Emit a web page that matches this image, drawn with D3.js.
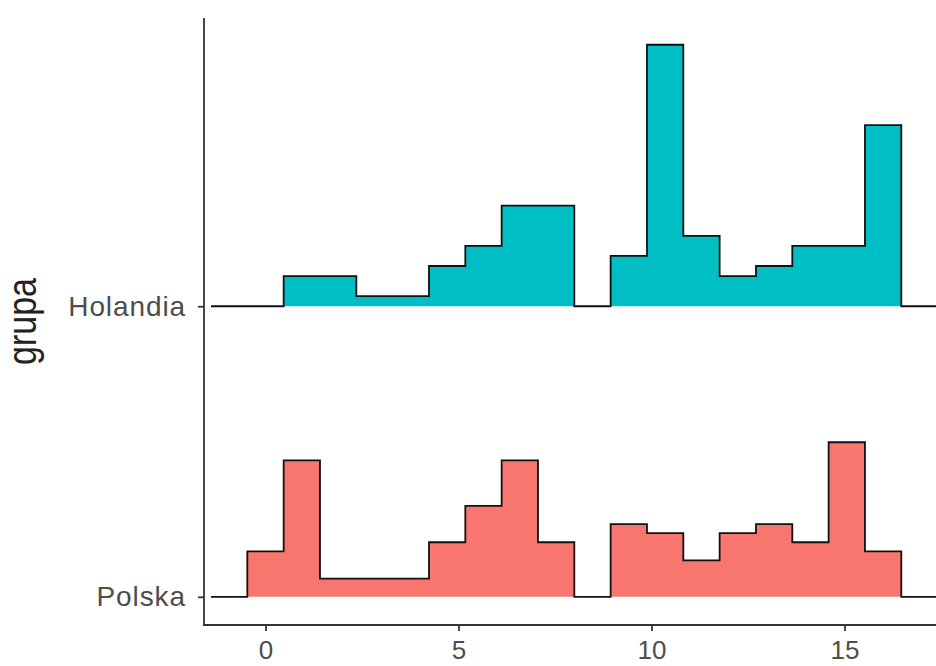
<!DOCTYPE html>
<html>
<head>
<meta charset="utf-8">
<script src="https://cdn.jsdelivr.net/npm/d3@7"></script>
<style>
  body { margin: 0; background: #fff; }
  text { font-family: "Liberation Sans", Arial, sans-serif; }
</style>
</head>
<body>
<script>
// groups, bottom to top
var groups = ['Polska', 'Holandia'];
var colors = ['#F8766D', '#00BFC4'];

// histogram bins: first bin starts at binStart, width binWidth
var binStart = -0.4706;
var binWidth = 0.9412;
var polskaCounts   = [5, 15, 2, 2, 2, 6, 10, 15, 6, 0, 8, 7, 4, 7, 8, 6, 17, 5];
var holandiaCounts = [0, 3, 3, 1, 1, 4, 6, 10, 10, 0, 5, 26, 7, 3, 4, 6, 6, 18];
var counts = [polskaCounts, holandiaCounts];

var xTicks = [0, 5, 10, 15];

var width = 936, height = 666;
var pLeft = 204, pRight = 936, pTop = 18, pBottom = 625;

var svg = d3.select('body').append('svg').attr('width', width).attr('height', height);

var x = d3.scaleLinear().domain([-1.593, 17.37]).range([pLeft, pRight]);
var y = d3.scaleLinear().domain([0.903, 2.992]).range([pBottom, pTop]);

// densities like ggridges stat_binline, scaled so tallest = 0.9 of spacing
var dens = counts.map(function(c) {
  var n = d3.sum(c);
  return c.map(function(v) { return v / (n * binWidth); });
});
var maxD = d3.max(dens, function(d) { return d3.max(d); });
var h = d3.scaleLinear().domain([0, maxD]).range([0, 0.9]);

function stepPoints(d) {
  var pts = [[binStart - binWidth, 0]];
  d.forEach(function(v, i) {
    var x0 = binStart + i * binWidth;
    pts.push([x0, i === 0 ? 0 : d[i - 1]]);
    pts.push([x0, v]);
    pts.push([x0 + binWidth, v]);
  });
  var xe = binStart + d.length * binWidth;
  pts.push([xe, 0]);
  pts.push([xe + binWidth, 0]);
  return pts;
}

var g = svg.append('g');
groups.forEach(function(name, gi) {
  var base = gi + 1;
  var pts = stepPoints(dens[gi]);
  var area = d3.area()
    .x(function(p) { return x(p[0]); })
    .y0(y(base))
    .y1(function(p) { return y(base + h(p[1])); });
  var line = d3.line()
    .x(function(p) { return x(p[0]); })
    .y(function(p) { return y(base + h(p[1])); });
  g.append('path').attr('d', area(pts)).attr('fill', colors[gi]);
  g.append('path').attr('d', line(pts)).attr('fill', 'none')
    .attr('stroke', '#111').attr('stroke-width', 1.8);
});

// axes
var xAxis = svg.append('g').attr('transform', 'translate(0,' + pBottom + ')')
  .call(d3.axisBottom(x).tickValues(xTicks).tickSize(6).tickPadding(10).tickSizeOuter(0));
var yAxis = svg.append('g').attr('transform', 'translate(' + pLeft + ',0)')
  .call(d3.axisLeft(y).tickValues([1, 2]).tickFormat(function(d) { return groups[d - 1]; })
    .tickSize(6).tickPadding(12).tickSizeOuter(0));

[xAxis, yAxis].forEach(function(a) {
  a.select('.domain').attr('stroke', '#333').attr('stroke-width', 1.8);
  a.selectAll('.tick line').attr('stroke', '#333').attr('stroke-width', 1.8);
  a.selectAll('.tick text').attr('fill', '#4D4D4D').style('font-size', '26px');
});
yAxis.selectAll('.tick text').style('font-size', '28px').style('letter-spacing', '0.9px');
xAxis.select('.domain').attr('d', 'M' + (pLeft - 0.9) + ',0H' + pRight);
yAxis.select('.domain').attr('d', 'M0,' + pTop + 'V' + (pBottom + 0.9));

svg.append('text')
  .attr('transform', 'translate(36,' + ((pTop + pBottom) / 2) + ') rotate(-90) scale(1,1.2)')
  .attr('text-anchor', 'middle')
  .style('font-size', '34px')
  .attr('fill', '#222')
  .text('grupa');
</script>
</body>
</html>
